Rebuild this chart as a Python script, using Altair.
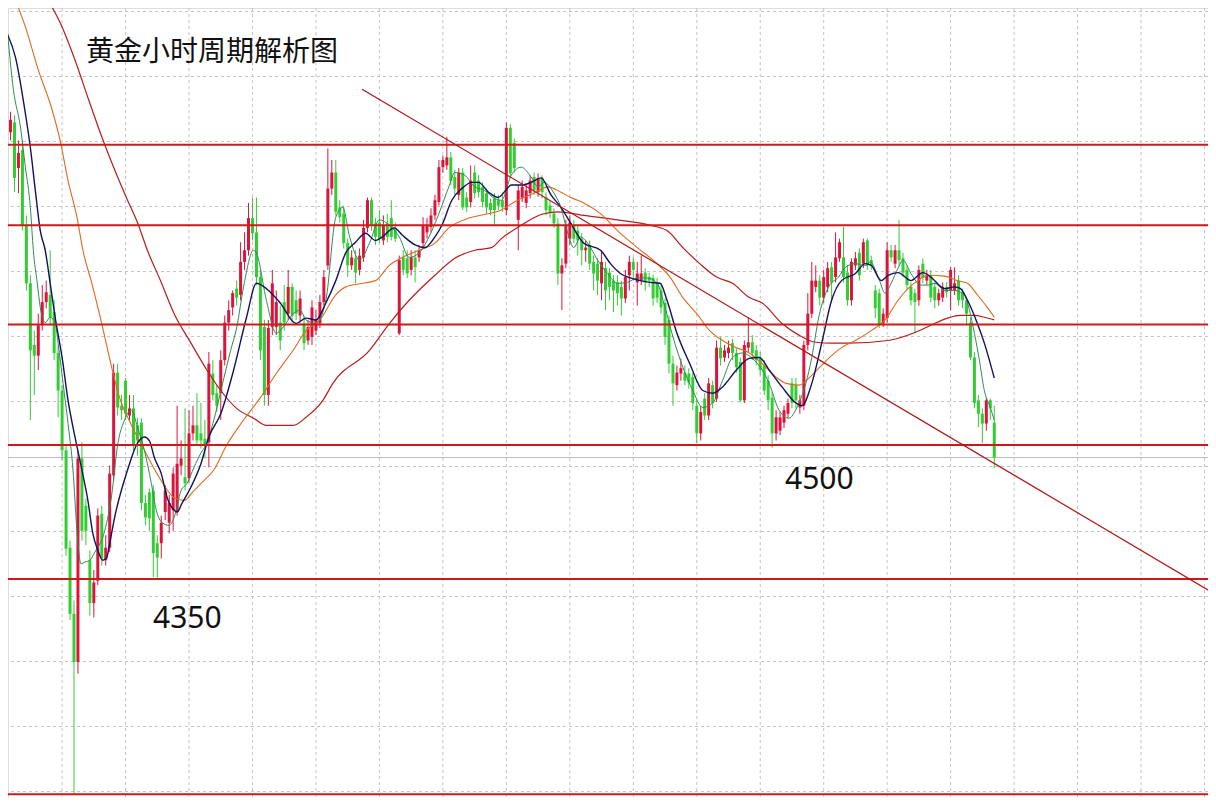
import altair as alt
import pandas as pd

# ---------------- candle data (hourly gold, price units) ----------------
opens = [4944,4850,4861,4810,4830,4746,4681,4612,4600,4634,4660,4668,4649,4603,4561,4494,4385,4311,4257,4485,
         4432,4371,4323,4348,4423,4371,4385,4466,4581,4544,4572,4533,4541,4522,4525,4435,4447,4449,4390,4390,
         4425,4413,4427,4425,4477,4464,4463,4513,4522,4513,4507,4503,4580,4558,4558,4595,4637,4654,4675,4668,
         4705,4718,4754,4738,4688,4632,4556,4632,4632,4637,4660,4647,4677,4662,4645,4636,4617,4621,4628,4636,
         4660,4701,4787,4805,4766,4759,4726,4701,4709,4696,4710,4743,4774,4748,4749,4729,4748,4754,4743,4625,
         4710,4709,4696,4710,4710,4726,4738,4744,4757,4772,4811,4813,4822,4800,4780,4805,4777,4772,4805,4796,
         4789,4782,4771,4776,4774,4774,4763,4855,4838,4752,4777,4771,4782,4800,4783,4799,4777,4768,4759,4748,
         4692,4703,4731,4746,4740,4731,4718,4724,4705,4703,4681,4698,4693,4684,4682,4677,4664,4690,4705,4682,
         4684,4693,4688,4687,4681,4673,4659,4640,4591,4567,4580,4581,4580,4576,4544,4513,4552,4533,4567,4552,
         4609,4598,4603,4614,4603,4593,4550,4609,4615,4606,4597,4589,4572,4553,4513,4516,4525,4535,4569,4567,
         4542,4544,4612,4647,4677,4684,4665,4677,4699,4688,4709,4710,4693,4662,4701,4715,4703,4729,4707,4673,
         4670,4636,4642,4718,4703,4718,4709,4696,4677,4670,4662,4703,4684,4690,4677,4662,4665,4677,4673,4673,
         4684,4671,4662,4637,4598,4550,4535,4524,4550,4525]
highs = [4959,4873,4869,4841,4841,4757,4690,4628,4647,4679,4684,4718,4662,4612,4567,4500,4393,4326,4494,4503,
         4440,4382,4360,4429,4432,4399,4477,4591,4591,4556,4575,4556,4556,4530,4530,4444,4451,4455,4399,4421,
         4455,4444,4475,4544,4505,4541,4539,4544,4558,4547,4528,4604,4595,4567,4606,4645,4662,4673,4684,4727,
         4738,4771,4777,4777,4696,4640,4640,4696,4673,4656,4679,4696,4681,4673,4673,4645,4640,4662,4651,4668,
         4696,4832,4819,4819,4774,4768,4731,4718,4718,4720,4752,4777,4777,4754,4763,4757,4759,4774,4749,4712,
         4718,4718,4718,4718,4724,4755,4754,4765,4780,4819,4824,4845,4828,4808,4810,4810,4783,4813,4813,4802,
         4794,4787,4776,4782,4780,4780,4861,4859,4843,4791,4796,4791,4802,4805,4804,4802,4783,4774,4765,4754,
         4709,4752,4757,4752,4746,4737,4729,4729,4712,4709,4718,4705,4698,4690,4690,4684,4696,4712,4710,4705,
         4712,4698,4693,4691,4687,4679,4664,4645,4600,4589,4597,4589,4586,4581,4550,4544,4558,4575,4572,4617,
         4621,4612,4617,4619,4608,4598,4617,4643,4623,4612,4604,4595,4578,4559,4539,4537,4544,4552,4575,4575,
         4556,4617,4670,4705,4701,4690,4696,4705,4705,4738,4731,4744,4701,4709,4716,4720,4731,4731,4712,4679,
         4675,4653,4727,4724,4724,4752,4715,4701,4682,4675,4701,4709,4696,4696,4682,4675,4682,4682,4699,4699,
         4690,4675,4666,4643,4604,4556,4541,4553,4552,4544]
lows = [4808,4841,4783,4782,4740,4673,4528,4556,4584,4628,4653,4634,4595,4531,4483,4376,4304,4110,4244,4393,
        4388,4309,4307,4343,4365,4365,4380,4460,4533,4528,4528,4528,4494,4488,4427,4410,4404,4352,4351,4373,
        4416,4401,4404,4421,4466,4449,4458,4505,4500,4496,4485,4475,4550,4537,4528,4589,4628,4645,4656,4662,
        4696,4712,4729,4679,4595,4544,4544,4623,4623,4606,4628,4640,4637,4640,4637,4606,4612,4612,4623,4631,
        4656,4696,4780,4757,4749,4720,4688,4696,4681,4690,4705,4738,4740,4724,4726,4724,4727,4729,4727,4623,
        4690,4687,4690,4682,4705,4720,4731,4738,4752,4768,4805,4808,4791,4780,4774,4763,4761,4766,4776,4777,
        4766,4759,4757,4746,4763,4761,4757,4799,4805,4718,4772,4765,4776,4780,4778,4776,4757,4754,4743,4679,
        4651,4698,4724,4726,4712,4701,4705,4696,4673,4668,4662,4651,4662,4649,4656,4645,4659,4673,4687,4656,
        4679,4673,4677,4656,4659,4647,4612,4580,4544,4561,4572,4567,4563,4539,4502,4505,4528,4528,4541,4548,
        4589,4593,4597,4595,4581,4548,4547,4604,4595,4589,4578,4556,4539,4497,4505,4511,4519,4530,4541,4541,
        4535,4539,4606,4642,4671,4656,4659,4671,4662,4682,4705,4682,4656,4656,4696,4684,4698,4696,4696,4642,
        4631,4632,4637,4705,4698,4701,4688,4673,4656,4625,4656,4681,4679,4660,4653,4656,4660,4665,4651,4668,
        4656,4653,4634,4595,4541,4520,4502,4516,4528,4474]
closes = [4813,4864,4799,4827,4746,4681,4606,4600,4634,4660,4671,4643,4603,4561,4494,4384,4311,4257,4485,4404,
          4404,4323,4346,4421,4373,4385,4468,4581,4542,4539,4535,4541,4500,4505,4435,4419,4418,4379,4374,4413,
          4449,4435,4468,4479,4485,4457,4513,4522,4505,4505,4500,4591,4556,4544,4595,4637,4651,4670,4665,4705,
          4718,4754,4737,4688,4606,4556,4631,4681,4660,4617,4637,4677,4645,4647,4664,4614,4632,4654,4640,4660,
          4688,4787,4805,4761,4755,4726,4701,4710,4693,4712,4743,4774,4746,4733,4731,4746,4733,4733,4731,4707,
          4696,4692,4710,4699,4718,4746,4746,4757,4774,4811,4819,4822,4796,4787,4805,4766,4766,4796,4782,4783,
          4772,4766,4763,4763,4768,4766,4855,4804,4810,4785,4789,4785,4796,4785,4799,4783,4763,4761,4748,4692,
          4701,4746,4749,4731,4729,4718,4721,4703,4692,4684,4705,4673,4677,4673,4670,4664,4688,4705,4696,4692,
          4692,4682,4684,4664,4665,4654,4621,4591,4569,4581,4586,4572,4570,4547,4513,4537,4533,4569,4547,4609,
          4597,4606,4609,4603,4587,4550,4612,4615,4603,4595,4584,4561,4550,4513,4531,4531,4539,4547,4547,4550,
          4550,4612,4647,4684,4684,4665,4688,4698,4682,4710,4727,4688,4662,4705,4709,4690,4727,4701,4701,4653,
          4634,4647,4718,4710,4718,4707,4693,4679,4662,4660,4696,4687,4690,4665,4662,4670,4677,4671,4696,4681,
          4662,4662,4647,4598,4547,4535,4524,4550,4541,4486]

# ---------------- moving averages ----------------
fast_ma_idx = [0.25,1.75,3.5,4.75,6,6.75,7.75,8.5,9.75,11,12.25,13,14.25,15.5,16.75,17.75,18.75,19.75,21,22.25,
               24.75,26.5,28,29.75,31.5,33,34.75,36.5,37.75,39.25,41,42.25,44,45.5,47.25,49,50.25,52.25,54.25,56.5,
               58,59.75,62.25,63,65.5,68,69.75,72.25,74,75.5,78,80.5,83,84.75,86.5,89,91.5,94,96.5,99,
               101.5,104,106.5,109,111.5,113,115.5,118,120.5,123,124.75,127.25,129.75,132.25,134,135.5,138,139.75,141.5,143,
               144.75,146.5,149,151.5,154,156.5,159,161.5,164,166,168,170.5,173,175.5,178,180.5,183,185.5,188,190.5,
               192.25,194.75,197.25,199.25,201.5,203,204.75,207.25,209.75,211.5,214,216.5,217.75,219.75,221.5,223,224.75,226,228,230.5,
               232.25,234,236.5,239,241.5,242.25,244,245.25,246.5,248,249]
fast_ma_val = [4961,4897,4856,4811,4766,4718,4681,4654,4637,4643,4637,4614,4569,4524,4472,4404,4367,4369,4371,4380,
               4404,4444,4500,4528,4539,4520,4494,4457,4427,4413,4410,4419,4449,4457,4475,4491,4500,4528,4565,4606,
               4631,4677,4718,4715,4662,4625,4632,4647,4651,4640,4636,4662,4755,4766,4733,4707,4726,4752,4746,4733,
               4710,4715,4733,4759,4789,4805,4802,4789,4785,4776,4774,4802,4811,4800,4789,4794,4782,4766,4737,4721,
               4733,4726,4707,4692,4681,4682,4687,4687,4681,4654,4621,4587,4561,4542,4547,4572,4598,4603,4597,4584,
               4569,4539,4530,4542,4569,4598,4643,4677,4688,4699,4703,4701,4705,4688,4670,4681,4698,4707,4692,4679,
               4679,4681,4673,4673,4668,4659,4625,4595,4561,4542,4528]

mid_ma_idx = [-0.25,2.25,4.75,6,7.25,8.5,9.75,11,12.25,14,15.5,17.25,19,20.5,21.75,23,24.25,25.25,26,27.25,
              30.5,33,34.75,36,37.25,39,40.5,42.25,43,44.25,46.5,49,51,54,57.25,60.5,63,66.5,69,73,
              75.5,78,80.5,83,85.5,88,90.5,93,94.75,97.75,99.75,103,105.5,108,109.75,112.25,114.75,117.25,119,121.5,
              124,125.25,127.25,129.75,132.25,134.75,137.25,139.75,142.25,145.5,149.75,152.25,154.75,157.25,159.75,162.25,164.75,166.5,169,172.25,
              175.5,178,180.5,184,187.25,189.75,192.25,195.5,199,200.5,203,205.5,208,210.5,214,216.5,218,220.5,222.25,224.75,
              228,231,233,236.5,239,240.5,242.25,244.75,246.5,249]
mid_ma_val = [4964,4934,4871,4833,4785,4740,4718,4681,4643,4598,4550,4509,4472,4438,4401,4382,4371,4374,4390,4419,
              4472,4502,4509,4505,4486,4468,4441,4427,4425,4435,4453,4479,4509,4535,4584,4643,4681,4671,4659,4636,
              4642,4640,4659,4684,4715,4727,4737,4729,4733,4743,4735,4724,4721,4733,4746,4774,4787,4794,4794,4783,
              4777,4782,4791,4791,4794,4799,4780,4766,4748,4726,4718,4703,4692,4687,4684,4682,4681,4662,4625,4591,
              4561,4558,4565,4584,4597,4598,4584,4565,4547,4544,4569,4614,4662,4684,4692,4703,4701,4684,4690,4693,
              4684,4693,4688,4675,4677,4675,4662,4636,4614,4575]

slow_ma_idx = [2.25,4.75,8,11.5,13.5,15.5,17.75,19.25,21.5,24,26.5,28.5,31.5,34.75,39,42.25,44.75,47.25,49.75,52.25,
               55.5,59.75,64,68,72.25,75.5,79,83,85.5,89.75,93,96.5,99.75,104,108,111.5,116.5,120.5,124.75,128,
               133,136.5,139.75,142.25,145.5,149.75,154,159,164,167.25,170.5,174,177.25,180.5,184,187.25,190.5,194,196.5,199.75,
               203,206.5,210.5,214,218,221.5,224.75,227.25,229.75,232.25,236.5,239.75,242.25,244.75,247.25,249]
slow_ma_val = [4998,4968,4920,4875,4841,4796,4755,4718,4681,4636,4587,4553,4522,4494,4460,4441,4438,4449,4460,4472,
               4500,4528,4553,4580,4606,4628,4640,4668,4677,4681,4684,4701,4710,4718,4726,4743,4754,4758,4763,4772,
               4782,4789,4783,4777,4771,4759,4740,4721,4703,4688,4665,4647,4628,4617,4609,4603,4591,4576,4569,4567,
               4578,4594,4609,4617,4628,4640,4662,4675,4684,4690,4689,4684,4681,4668,4654,4643]

long_ma_idx = [10.5,14,17.25,20.5,24,28,30.5,33,35.5,39,42.25,46.5,50.5,54,58,62.25,65.5,69,72.25,75.5,
               79.75,82.25,91.5,96.5,101.5,108,113,118,122.25,124.75,129.75,134.75,139,145.5,154,162.25,166.5,170.5,174.75,179,
               183,187.25,190.5,195.5,199.75,204,208,212.25,222.25,229,233,237.25,240.5,244,246.5,249]
long_ma_val = [4998,4968,4931,4889,4845,4800,4774,4749,4718,4682,4647,4614,4584,4561,4541,4530,4522,4522,4522,4531,
               4550,4569,4606,4636,4662,4690,4709,4718,4721,4731,4746,4758,4761,4757,4752,4746,4740,4721,4703,4688,
               4681,4665,4659,4636,4623,4615,4614,4614,4617,4626,4634,4642,4645,4645,4643,4640]

# ---------------- drawn objects ----------------
level_prices = [4836, 4746, 4635, 4500, 4350, 4109]
trend_idx = [89.625, 303.625]
trend_price = [4898.2, 4335.8]
grid_idx = [14, 30, 46, 62, 78, 94, 110, 126, 142, 158, 174, 190, 206, 222, 238, 254, 270, 286, 302]
grid_price = [4985.3, 4912.5, 4839.7, 4767.0, 4694.2, 4621.5, 4548.7, 4475.9, 4403.2, 4330.4, 4257.6, 4184.9, 4112.1]
title_text = ["黄金小时周期解析图"]
label_low = ["4350"]
label_high = ["4500"]

# ---------------- chart ----------------
XS = alt.Scale(domain=[1.625, 301.625], nice=False, zero=False)
YS = alt.Scale(domain=[4104.85, 4989.18], nice=False, zero=False)

candles = pd.DataFrame({"idx": list(range(len(opens))), "open": opens, "high": highs,
                        "low": lows, "close": closes})
candles["dir"] = ["up" if c > o else "down" for o, c in zip(opens, closes)]
color = alt.Color("dir:N", scale=alt.Scale(domain=["up", "down"], range=["#DC143C", "#32CD32"]), legend=None)

def X(field):
    return alt.X(field, scale=XS, axis=None, title=None)

def Y(field):
    return alt.Y(field, scale=YS, axis=None, title=None)

grid_v = alt.Chart(pd.DataFrame({"g": grid_idx})).mark_rule(
    color="#C4C4C4", strokeWidth=1, strokeDash=[3, 3], clip=True).encode(x=X("g:Q"))
grid_h = alt.Chart(pd.DataFrame({"g": grid_price})).mark_rule(
    color="#C4C4C4", strokeWidth=1, strokeDash=[3, 3], clip=True).encode(y=Y("g:Q"))

bid = alt.Chart(pd.DataFrame({"p": [closes[-1]]})).mark_rule(
    color="#BDBDBD", strokeWidth=1, clip=True).encode(y=Y("p:Q"))

wicks = alt.Chart(candles).mark_rule(strokeWidth=1, clip=True).encode(
    x=X("idx:Q"), y=Y("low:Q"), y2="high:Q", color=color)
bodies = alt.Chart(candles).mark_bar(size=3, clip=True).encode(
    x=X("idx:Q"), y=Y("open:Q"), y2="close:Q", color=color)

def ma_line(idx, val, col, w):
    df = pd.DataFrame({"i": idx, "v": val})
    return alt.Chart(df).mark_line(color=col, strokeWidth=w, interpolate="monotone", clip=True).encode(
        x=X("i:Q"), y=Y("v:Q"))

long_l = ma_line(long_ma_idx, long_ma_val, "#B81C1C", 1.2)
slow_l = ma_line(slow_ma_idx, slow_ma_val, "#DE6A1E", 1.1)
fast_l = ma_line(fast_ma_idx, fast_ma_val, "#2E8B57", 1.0)
mid_l = ma_line(mid_ma_idx, mid_ma_val, "#12125E", 1.4)

levels = alt.Chart(pd.DataFrame({"p": level_prices})).mark_rule(
    color="#D01818", strokeWidth=2, clip=True).encode(y=Y("p:Q"))

trend = alt.Chart(pd.DataFrame({"i": trend_idx, "p": trend_price})).mark_line(
    color="#B01515", strokeWidth=1.2, clip=True).encode(x=X("i:Q"), y=Y("p:Q"))

title = alt.Chart(pd.DataFrame({"t": title_text})).mark_text(
    align="left", baseline="alphabetic", font="Noto Sans CJK SC", fontSize=28, color="#111111"
).encode(x=alt.value(78), y=alt.value(53), text="t:N")
lab1 = alt.Chart(pd.DataFrame({"t": label_low})).mark_text(
    align="left", baseline="alphabetic", font="Noto Sans", fontSize=30, color="#111111"
).encode(x=alt.value(145), y=alt.value(620), text="t:N")
lab2 = alt.Chart(pd.DataFrame({"t": label_high})).mark_text(
    align="left", baseline="alphabetic", font="Noto Sans", fontSize=30, color="#111111"
).encode(x=alt.value(777), y=alt.value(481), text="t:N")

chart = alt.layer(
    grid_v, grid_h, bid, wicks, bodies, long_l, slow_l, fast_l, mid_l, levels, trend, title, lab1, lab2
).properties(width=1200, height=790, padding=0).configure_view(stroke=None).configure(background="white")

chart.save("out.html", embed_options={"renderer": "svg", "actions": False})
